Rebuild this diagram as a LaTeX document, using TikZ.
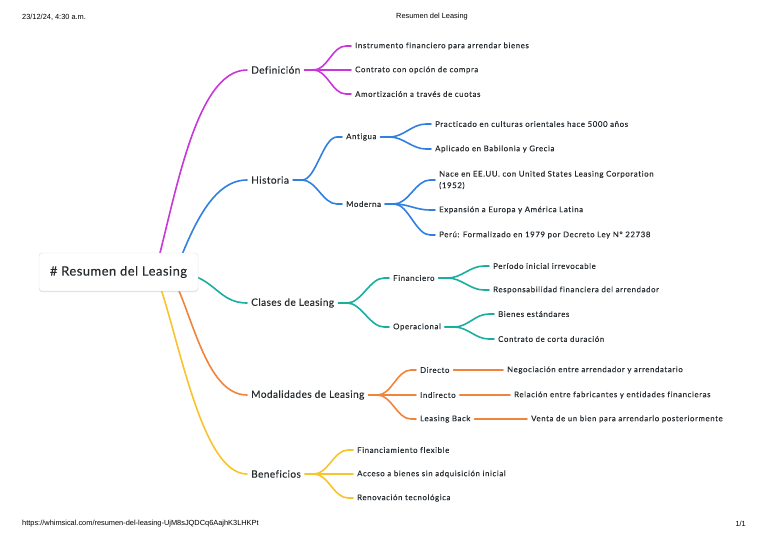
\documentclass[tikz,border=0pt]{standalone}
\usepackage{fontspec}
\setmainfont{Lato}[Ligatures=NoCommon]
\newfontfamily\hdrfont{Liberation Sans}
\newfontfamily\leaffont{Lato}[LetterSpace=8,Ligatures=NoCommon,FakeBold=0.25]
\newfontfamily\onefont{Lato}[LetterSpace=4,Ligatures=NoCommon,FakeBold=0.2]
\usetikzlibrary{calc,shadows}
\definecolor{cpur}{HTML}{C737D9}
\definecolor{cblu}{HTML}{2F80E0}
\definecolor{ctea}{HTML}{1AAE9F}
\definecolor{cora}{HTML}{F0843C}
\definecolor{cyel}{HTML}{F8C42D}
\definecolor{txt}{HTML}{262B2F}
\begin{document}
\begin{tikzpicture}[x=1pt,y=-1pt,
  lvone/.style={anchor=west,inner xsep=4pt,inner ysep=1pt,text=txt,font=\onefont\fontsize{10.1}{12}\selectfont},
  leaf/.style={anchor=west,inner xsep=4pt,inner ysep=1pt,text=txt,font=\leaffont\fontsize{7.8}{11.5}\selectfont,align=left},
  conn/.style={line width=1.6pt,line cap=round},
  br/.style={to path={-- ++(9,0) .. controls +(14,0) and +(-14,0) .. ($(\tikztotarget)+(-5,0)$) -- (\tikztotarget)}},
  hdr/.style={inner sep=0pt,font=\hdrfont\fontsize{7.4}{9}\selectfont,text=black}
]
\useasboundingbox (0,0) rectangle (768,543);

% header / footer
\node[hdr,anchor=west] (hd1) at (22,17) {23/12/24, 4:30 a.m.};
\node[hdr] (hd2) at (432,17) {Resumen del Leasing};
\node[hdr,anchor=west] (ft1) at (22,524) {https://whimsical.com/resumen-del-leasing-UjM8sJQDCq6AajhK3LHKPt};
\node[hdr,anchor=east] (ft2) at (746,524) {1/1};

% level one nodes
\node[lvone] (def) at (247,70) {Definición};
\node[lvone] (his) at (247,180) {Historia};
\node[lvone] (cla) at (247,303) {Clases de Leasing};
\node[lvone] (mod) at (247,395) {Modalidades de Leasing};
\node[lvone] (ben) at (247,474) {Beneficios};

% curves from root (behind root box)
\coordinate (sp) at (155,272);
\coordinate (sb) at (175,272);
\coordinate (sc) at (170,272);
\coordinate (so) at (170,272);
\coordinate (sy) at (155,272);
\draw[conn,cpur] (sp) .. controls (175,200) and (195,70) .. (def.west);
\draw[conn,cblu] (sb) .. controls (190,235) and (210,180) .. (his.west);
\draw[conn,ctea] (sc) .. controls (215,272) and (215,303) .. (cla.west);
\draw[conn,cora] (so) .. controls (192,310) and (205,395) .. (mod.west);
\draw[conn,cyel] (sy) .. controls (178,330) and (200,474) .. (ben.west);

% root
\node[draw=black!12,fill=white,rounded corners=3pt,minimum width=159pt,minimum height=38pt,
  text=txt,font=\onefont\fontsize{12.9}{14}\selectfont,
  drop shadow={opacity=0.12,shadow xshift=0pt,shadow yshift=-1pt,fill=black}] (root) at (118.5,272) {\# Resumen del Leasing};

% Definicion
\node[leaf] (d1) at (351,46) {Instrumento financiero para arrendar bienes};
\node[leaf] (d2) at (351,70) {Contrato con opción de compra};
\node[leaf] (d3) at (351,94) {Amortización a través de cuotas};
\foreach \n in {d1,d2,d3} \draw[conn,cpur] (def.east) to[br] (\n.west);

% Historia
\node[leaf] (ant) at (342,137) {Antigua};
\node[leaf] (mdn) at (342,204) {Moderna};
\node[leaf] (a1) at (431,124) {Practicado en culturas orientales hace 5000 años};
\node[leaf] (a2) at (431,149) {Aplicado en Babilonia y Grecia};
\node[leaf] (m1) at (435,180) {Nace en EE.UU. con United States Leasing Corporation\\(1952)};
\node[leaf] (m2) at (435,210) {Expansión a Europa y América Latina};
\node[leaf] (m3) at (435,235) {Perú: Formalizado en 1979 por Decreto Ley N° 22738};
\foreach \n in {ant,mdn} \draw[conn,cblu] (his.east) to[br] (\n.west);
\foreach \n in {a1,a2} \draw[conn,cblu] (ant.east) to[br] (\n.west);
\foreach \n in {m1,m2,m3} \draw[conn,cblu] (mdn.east) to[br] (\n.west);

% Clases
\node[leaf] (fin) at (389,278) {Financiero};
\node[leaf] (ope) at (389,327) {Operacional};
\node[leaf] (f1) at (489,266) {Período inicial irrevocable};
\node[leaf] (f2) at (489,290) {Responsabilidad financiera del arrendador};
\node[leaf] (o1) at (494,314) {Bienes estándares};
\node[leaf] (o2) at (494,339) {Contrato de corta duración};
\foreach \n in {fin,ope} \draw[conn,ctea] (cla.east) to[br] (\n.west);
\foreach \n in {f1,f2} \draw[conn,ctea] (fin.east) to[br] (\n.west);
\foreach \n in {o1,o2} \draw[conn,ctea] (ope.east) to[br] (\n.west);

% Modalidades
\node[leaf] (dir) at (416,370) {Directo};
\node[leaf] (ind) at (416,395) {Indirecto};
\node[leaf] (lb) at (416,419) {Leasing Back};
\node[leaf] (n1) at (503,370) {Negociación entre arrendador y arrendatario};
\node[leaf] (n2) at (510,395) {Relación entre fabricantes y entidades financieras};
\node[leaf] (n3) at (527,419) {Venta de un bien para arrendarlo posteriormente};
\foreach \n in {dir,ind,lb} \draw[conn,cora] (mod.east) to[br] (\n.west);
\draw[conn,cora] (dir.east) -- (n1.west);
\draw[conn,cora] (ind.east) -- (n2.west);
\draw[conn,cora] (lb.east) -- (n3.west);

% Beneficios
\node[leaf] (b1) at (353,450) {Financiamiento flexible};
\node[leaf] (b2) at (353,474) {Acceso a bienes sin adquisición inicial};
\node[leaf] (b3) at (353,498) {Renovación tecnológica};
\foreach \n in {b1,b2,b3} \draw[conn,cyel] (ben.east) to[br] (\n.west);
\end{tikzpicture}
\end{document}
